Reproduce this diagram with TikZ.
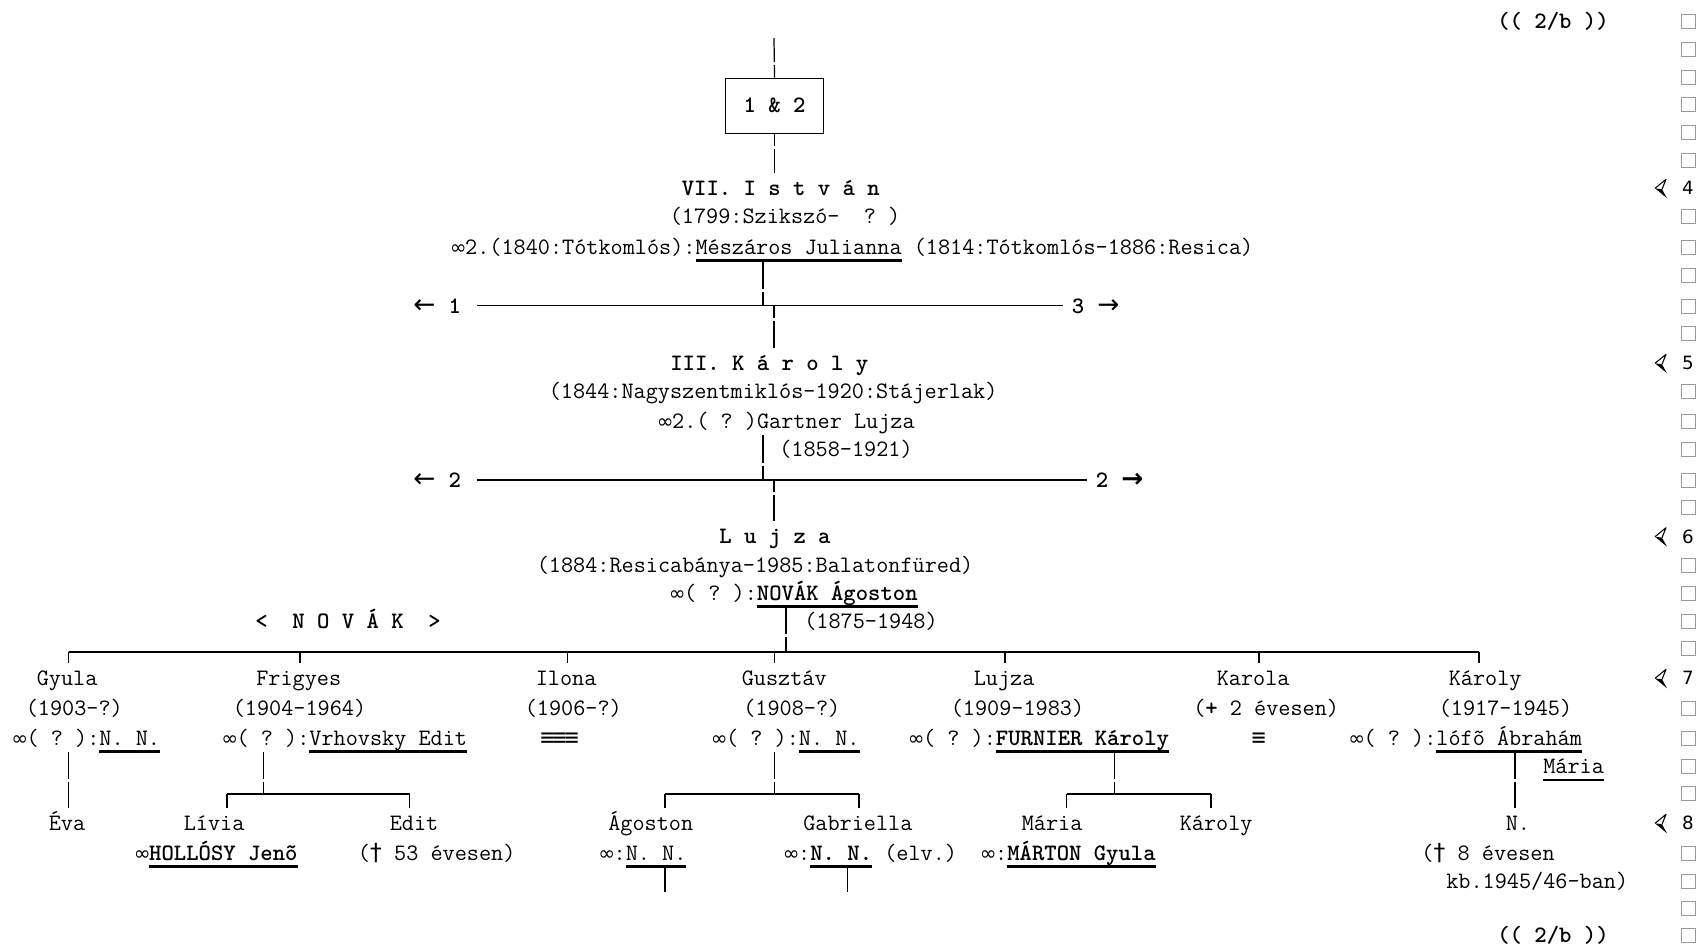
\documentclass[tikz,border=0pt]{standalone}
\usepackage{fontspec}
\usetikzlibrary{positioning, calc}

\newfontfamily\symfont{DejaVu Sans Mono}
\newfontfamily\dvfont{DejaVu Sans}
\newcommand{\genfont}{\fontsize{13.4}{15}\selectfont\ttfamily\frenchspacing}
\newlength{\cw}
\setlength{\cw}{6.89pt}
\newcommand{\sym}[1]{\makebox[\cw]{\symfont #1}}
\newcommand{\infy}{\makebox[7.9pt]{\dvfont\fontsize{11.5}{12}\selectfont ∞}}
\newcommand{\arrw}[1]{\makebox[2\cw]{\dvfont\fontsize{15}{15}\selectfont #1}}
\newcommand{\undl}[1]{\setbox0\hbox{#1}\rlap{\rule[-4.2pt]{\wd0}{1.3pt}}\box0\relax}

\begin{document}
\begin{tikzpicture}[
    x=0.02cm, y=-0.02cm,
    txt/.style={anchor=base west, inner sep=0pt, text height=12.5pt, text depth=3.5pt, font=\genfont},
    boldtxt/.style={txt, font=\genfont\bfseries},
    vline/.style={line width=0.7pt},
    vgap/.style={vline, dash pattern=on #1 off 0.06cm on 5cm},
    hline/.style={line width=0.8pt},
    tofu/.style={draw=gray!80, line width=0.5pt, minimum size=0.28cm, inner sep=0pt},
]
\useasboundingbox (0,0) rectangle (1704,947);

% ===================== PAGE MARKS =====================
\node[boldtxt] (pgTop) at (1497, 28.7) {(( 2/b ))};
\node[boldtxt] (pgBottom) at (1497, 942) {(( 2/b ))};

% empty boxes in the right margin
\foreach \y [count=\i] in {21.7, 49.3, 77.3, 104.3, 132.7, 160.7, 216.7, 247.3, 275, 306,
    333.3, 391.7, 421.7, 449, 480, 507.7, 565, 593.3, 621.7, 648.3, 708.3, 738.3,
    766.7, 793.3, 853.3, 881.7, 908.3, 935} {
    \node[tofu] (tofu\i) at (1688, \y) {};
}

% generation markers
\foreach \y/\g in {188.3/4, 363.3/5, 536.7/6, 678.3/7, 823.3/8} {
    \draw[line width=0.6pt, line join=round, shift={(1655,\y)}] (0,0) -- (11,-9) -- (7,1);
    \fill[shift={(1655,\y)}] (0,0) -- (7,1) -- (12,10) -- cycle;
    \node[font=\dvfont\fontsize{10.4}{12}\selectfont] (gen\g) at (1688, \y) {\g};
}

% ===================== 1 & 2 =====================
\coordinate (topEnd) at (774, 38);
\node[draw, line width=0.7pt, minimum width=1.95cm, minimum height=1.1cm, inner sep=0pt,
      font=\genfont\bfseries] (box12) at (774.5, 105.8) {1 \& 2};
\draw[vgap=0.476cm] (topEnd) -- (box12.north);

% ===================== VII. ISTVAN =====================
\node[boldtxt] (istvan) at (681.5, 195.3) {VII. I s t v á n};
\node[txt] (istvanDates) at (669.5, 223.7) {(1799:Szikszó-\ \ ? )};
\node[txt] (istvanWife) at (451, 254.3)
    {\infy 2.(1840:Tótkomlós):\undl{Mészáros Julianna} (1814:Tótkomlós-1886:Resica)};
\draw[vgap=0.238cm] (box12.south) -- (box12.south |- istvan.north);

% ===================== III. KAROLY =====================
\node[boldtxt] (karoly) at (670, 370.3) {III. K á r o l y};
\node[txt] (karolyDates) at (548.5, 398.7) {(1844:Nagyszentmiklós-1920:Stájerlak)};
\node[txt] (karolyWife) at (658, 428.7) {\infy 2.( ? )Gartner Lujza};
\node[txt] (wifeDates) at (779, 456) {(1858-1921)};

% branch 1 -- 3
\coordinate (jA) at (763, 305.5);
\coordinate (jB) at (774, 305.5);
\node[txt] (toOne) at (412, 313) {\arrw{←} \textbf{1}};
\node[txt] (toThree) at (1071.5, 313) {\textbf{3} \arrw{→}};
\draw[vgap=0.57cm] (istvanWife.south -| jA) -- (jA);
\draw[hline] ($(toOne.east |- jA) + (15.4,0)$) -- ($(toThree.west |- jA) + (-8.5,0)$);
\draw[vgap=0.254cm] (jB) -- (jB |- karoly.north);

% ===================== LUJZA =====================
\node[boldtxt] (lujza) at (719, 543.7) {L u j z a};
\node[txt] (lujzaDates) at (536.5, 572) {(1884:Resicabánya-1985:Balatonfüred)};
\node[txt] (lujzaHusb) at (670, 600.3) {\infy( ? ):\undl{\textbf{NOVÁK Ágoston}}};
\node[boldtxt] (novak) at (255, 628.7) {<\ \ N O V Á K\ \ >};
\node[txt] (husbDates) at (804, 628.7) {(1875-1948)};

% branch 2 -- 2
\coordinate (jC) at (763, 480);
\coordinate (jD) at (774, 480);
\node[txt] (toTwoL) at (412, 487) {\arrw{←} \textbf{2}};
\node[txt] (toTwoR) at (1095.5, 487) {\textbf{2} \arrw{\bfseries →}};
\draw[vgap=0.562cm] (karolyWife.south -| jC) -- (jC);
\draw[hline] ($(toTwoL.east |- jC) + (15.4,0)$) -- ($(toTwoR.west |- jC) + (-8.5,0)$);
\draw[vgap=0.246cm] (jD) -- (jD |- lujza.north);

% ===================== CHILDREN =====================
\node[txt] (gyula) at (36.5, 685.3) {Gyula};
\node[txt] (frigyes) at (256, 685.3) {Frigyes};
\node[txt] (ilona) at (535.5, 685.3) {Ilona};
\node[txt] (gusztav) at (741.5, 685.3) {Gusztáv};
\node[txt] (lujzaJr) at (973.5, 685.3) {Lujza};
\node[txt] (karola) at (1216.5, 685.3) {Karola};
\node[txt] (karolyJr) at (1448.5, 685.3) {Károly};

\node[txt] (gyulaDates) at (25.5, 715.3) {(1903-?)};
\node[txt] (frigyesDates) at (232.5, 715.3) {(1904-1964)};
\node[txt] (ilonaDates) at (524.5, 715.3) {(1906-?)};
\node[txt] (gusztavDates) at (743, 715.3) {(1908-?)};
\node[txt] (lujzaJrDates) at (950.5, 715.3) {(1909-1983)};
\node[txt] (karolaDates) at (1193, 715.3) {(\textbf{+} 2 évesen)};
\node[txt] (karolyJrDates) at (1438.5, 715.3) {(1917-1945)};

\node[txt] (gyulaWife) at (12.5, 745.3) {\infy( ? ):\undl{N. N.}};
\node[txt] (frigyesWife) at (222.5, 745.3) {\infy( ? ):\undl{Vrhovsky Edit}};
\node[txt] (ilonaNone) at (541, 745.3) {\sym{≡}\sym{≡}\sym{≡}};
\node[txt] (gusztavWife) at (712, 745.3) {\infy( ? ):\undl{N. N.}};
\node[txt] (lujzaJrHusb) at (909, 745.3) {\infy( ? ):\undl{\textbf{FURNIER Károly}}};
\node[txt] (karolaNone) at (1252.4, 745.3) {\sym{≡}};
\node[txt] (karolyJrWife) at (1349.5, 745.3) {\infy( ? ):\undl{lófõ Ábrahám}};
\node[txt] (karolyJrWife2) at (1543, 773.7) {\undl{Mária}};

% bracket under Novak
\coordinate (jN) at (786, 652);
\draw[vgap=0.54cm] (lujzaHusb.south -| jN) -- (jN);
\coordinate (brL) at (68.5, 652);
\coordinate (brR) at (1479, 652);
\draw[hline] (brL) -- (brR);
\foreach \n/\x in {gyula/68.5, frigyes/300, ilona/567.5, gusztav/774.6,
    lujzaJr/1005, karola/1259, karolyJr/1479} {
    \coordinate (d\n) at (\x, 652);
    \draw[vline] (d\n) -- (d\n |- \n.north);
}

% ===================== GRANDCHILDREN =====================
\node[txt] (eva) at (48.5, 830.3) {Éva};
\node[txt] (livia) at (183.5, 830.3) {Lívia};
\node[txt] (edit) at (389.5, 830.3) {Edit};
\node[txt] (agoston) at (608, 830.3) {Ágoston};
\node[txt] (gabriella) at (803, 830.3) {Gabriella};
\node[txt] (maria) at (1021.5, 830.3) {Mária};
\node[txt] (karolyIII) at (1179.5, 830.3) {Károly};
\node[txt] (childN) at (1505.5, 830.3) {N.};

\node[txt] (liviaHusb) at (135, 860.3) {\infy\undl{\textbf{HOLLÓSY Jenõ}}};
\node[txt] (editNote) at (357.5, 860.3) {(\sym{†} 53 évesen)};
\node[txt] (agostonWife) at (599.5, 860.3) {\infy:\undl{N. N.}};
\node[txt] (gabriellaHusb) at (784, 860.3) {\infy:\undl{\textbf{N. N.}} (elv.)};
\node[txt] (mariaHusb) at (981, 860.3) {\infy:\undl{\textbf{MÁRTON Gyula}}};
\node[txt] (childNote) at (1421, 860.3) {(\sym{†} 8 évesen};
\node[txt] (childNote2) at (1446, 888.7) {kb.1945/46-ban)};

% Gyula -> Eva
\draw[vgap=0.54cm] (gyulaWife.south -| dgyula) -- (dgyula |- eva.north);

% Frigyes -> Livia, Edit
\coordinate (fJ) at (263.5, 794);
\coordinate (fL) at (227, 794);
\coordinate (fR) at (409.5, 794);
\draw[vgap=0.54cm] (frigyesWife.south -| fJ) -- (fJ);
\draw[hline] (fL) -- (fR);
\draw[vline] (fL) -- (fL |- livia.north);
\draw[vline] (fR) -- (fR |- edit.north);

% Gusztav -> Agoston, Gabriella
\coordinate (gJ) at (774.6, 794);
\coordinate (gL) at (665, 794);
\coordinate (gR) at (859, 794);
\draw[vgap=0.54cm] (gusztavWife.south -| gJ) -- (gJ);
\draw[hline] (gL) -- (gR);
\draw[vline] (gL) -- (gL |- agoston.north);
\draw[vline] (gR) -- (gR |- gabriella.north);

% Lujza -> Maria, Karoly
\coordinate (lJ) at (1114.5, 794);
\coordinate (lL) at (1066.6, 794);
\coordinate (lR) at (1211, 794);
\draw[vgap=0.54cm] (lujzaJrHusb.south -| lJ) -- (lJ);
\draw[hline] (lL) -- (lR);
\draw[vline] (lL) -- (lL |- maria.north);
\draw[vline] (lR) -- (lR |- karolyIII.north);

% Karoly -> N.
\coordinate (kJ) at (1515, 794);
\draw[vgap=0.54cm] (karolyJrWife.south -| kJ) -- (kJ |- childN.north);

% lines running on to the next page
\coordinate (agDown) at (665, 892);
\coordinate (gbDown) at (847.5, 892);
\draw[vline] (agostonWife.south -| agDown) -- (agDown);
\draw[vline] (gabriellaHusb.south -| gbDown) -- (gbDown);

\end{tikzpicture}
\end{document}
